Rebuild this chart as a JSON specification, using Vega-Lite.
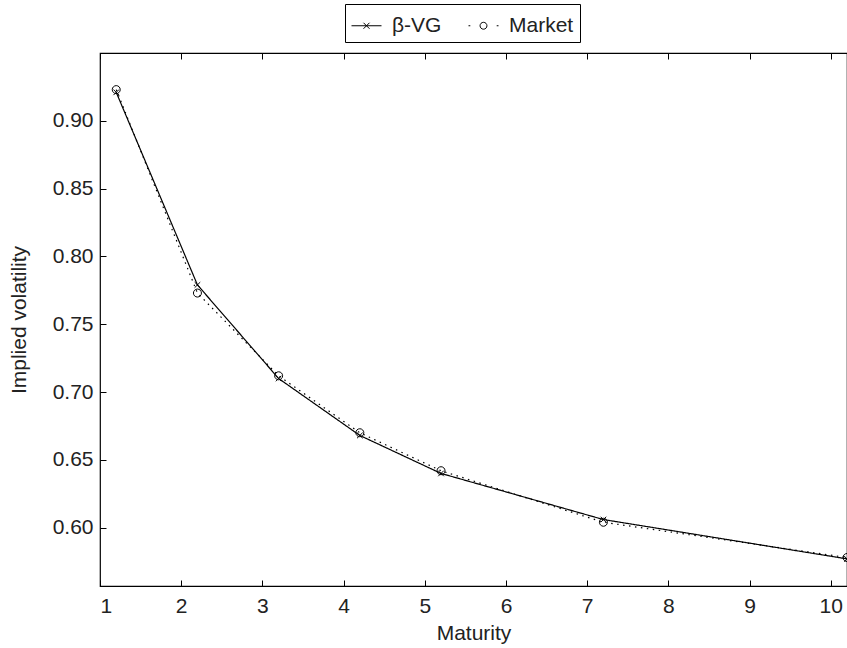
{
  "$schema": "https://vega.github.io/schema/vega-lite/v6.json",
  "width": 747,
  "height": 533,
  "autosize": {"type": "none"},
  "padding": {"left": 100, "top": 53, "right": 0, "bottom": 62},
  "background": "white",
  "config": {
    "font": "Liberation Sans",
    "view": {"stroke": "black", "strokeWidth": 1.2},
    "axis": {"grid": false, "domain": false, "tickColor": "black", "labelColor": "#222", "titleColor": "#222", "labelFont": "Liberation Sans", "titleFont": "Liberation Sans", "labelFontSize": 21, "titleFontSize": 21, "titleFontWeight": "normal", "tickSize": 6, "tickWidth": 1, "offset": -6}
  },
  "data": {
    "values": [
      {"maturity": 1.2, "vol": 0.921, "series": "β-VG"},
      {"maturity": 2.2, "vol": 0.779, "series": "β-VG"},
      {"maturity": 3.2, "vol": 0.710, "series": "β-VG"},
      {"maturity": 4.2, "vol": 0.668, "series": "β-VG"},
      {"maturity": 5.2, "vol": 0.640, "series": "β-VG"},
      {"maturity": 7.2, "vol": 0.606, "series": "β-VG"},
      {"maturity": 10.2, "vol": 0.577, "series": "β-VG"},
      {"maturity": 1.2, "vol": 0.923, "series": "Market"},
      {"maturity": 2.2, "vol": 0.773, "series": "Market"},
      {"maturity": 3.2, "vol": 0.712, "series": "Market"},
      {"maturity": 4.2, "vol": 0.670, "series": "Market"},
      {"maturity": 5.2, "vol": 0.642, "series": "Market"},
      {"maturity": 7.2, "vol": 0.604, "series": "Market"},
      {"maturity": 10.2, "vol": 0.578, "series": "Market"}
    ]
  },
  "layer": [
    {
      "mark": {"type": "line", "color": "black", "strokeWidth": 1.2},
      "encoding": {
        "x": {"field": "maturity", "type": "quantitative", "scale": {"domain": [1, 10.2], "nice": false, "zero": false},
              "axis": {"orient": "bottom", "values": [1,2,3,4,5,6,7,8,9,10], "title": "Maturity", "labelPadding": 9, "titlePadding": 6}},
        "y": {"field": "vol", "type": "quantitative", "scale": {"domain": [0.557, 0.95], "nice": false, "zero": false},
              "axis": {"orient": "left", "values": [0.6,0.65,0.7,0.75,0.8,0.85,0.9], "format": ".2f", "title": "Implied volatility", "labelPadding": 7, "titlePadding": 23}},
        "strokeDash": {"field": "series", "type": "nominal", "scale": {"domain": ["β-VG", "Market"], "range": [[1, 0], [1.5, 4.5]]}, "legend": null}
      }
    },
    {
      "mark": {"type": "point", "color": "black", "filled": false, "size": 64, "strokeWidth": 1, "opacity": 1},
      "encoding": {
        "x": {"field": "maturity", "type": "quantitative", "axis": {"orient": "top", "values": [1,2,3,4,5,6,7,8,9,10], "labels": false, "title": null}},
        "y": {"field": "vol", "type": "quantitative", "axis": null},
        "shape": {"field": "series", "type": "nominal", "scale": {"domain": ["β-VG", "Market"], "range": ["M-0.7,-0.7L0.7,0.7M-0.7,0.7L0.7,-0.7", "M1,0A1,1 0 1,1 -1,0A1,1 0 1,1 1,0"]}, "legend": null}
      }
    },
    {
      "transform": [{"filter": "datum.vol < 0"}],
      "mark": {"type": "point", "color": "black", "filled": false, "strokeWidth": 1, "opacity": 1},
      "encoding": {
        "x": {"field": "maturity", "type": "quantitative", "axis": null},
        "y": {"field": "vol", "type": "quantitative", "axis": null},
        "shape": {"field": "series", "type": "nominal",
                  "scale": {"domain": ["β-VG", "Market"], "range": ["M-1,0H1M-0.2,-0.2L0.2,0.2M-0.2,0.2L0.2,-0.2", "M-1,0H-0.88M0.88,0H1M0.23,0A0.23,0.23 0 1,1 -0.23,0A0.23,0.23 0 1,1 0.23,0"]},
                  "legend": {"title": null, "orient": "none", "legendX": 245, "legendY": -49, "direction": "horizontal", "strokeColor": "black", "padding": 6, "symbolSize": 900, "symbolStrokeColor": "black", "symbolFillColor": "transparent", "symbolStrokeWidth": 1, "labelFontSize": 21, "labelFont": "Liberation Sans", "labelColor": "#222", "labelOffset": 10, "columnPadding": 24, "fillColor": "white"}}
      }
    }
  ],
  "resolve": {"scale": {"shape": "independent"}, "axis": {"x": "independent", "y": "independent"}}
}
